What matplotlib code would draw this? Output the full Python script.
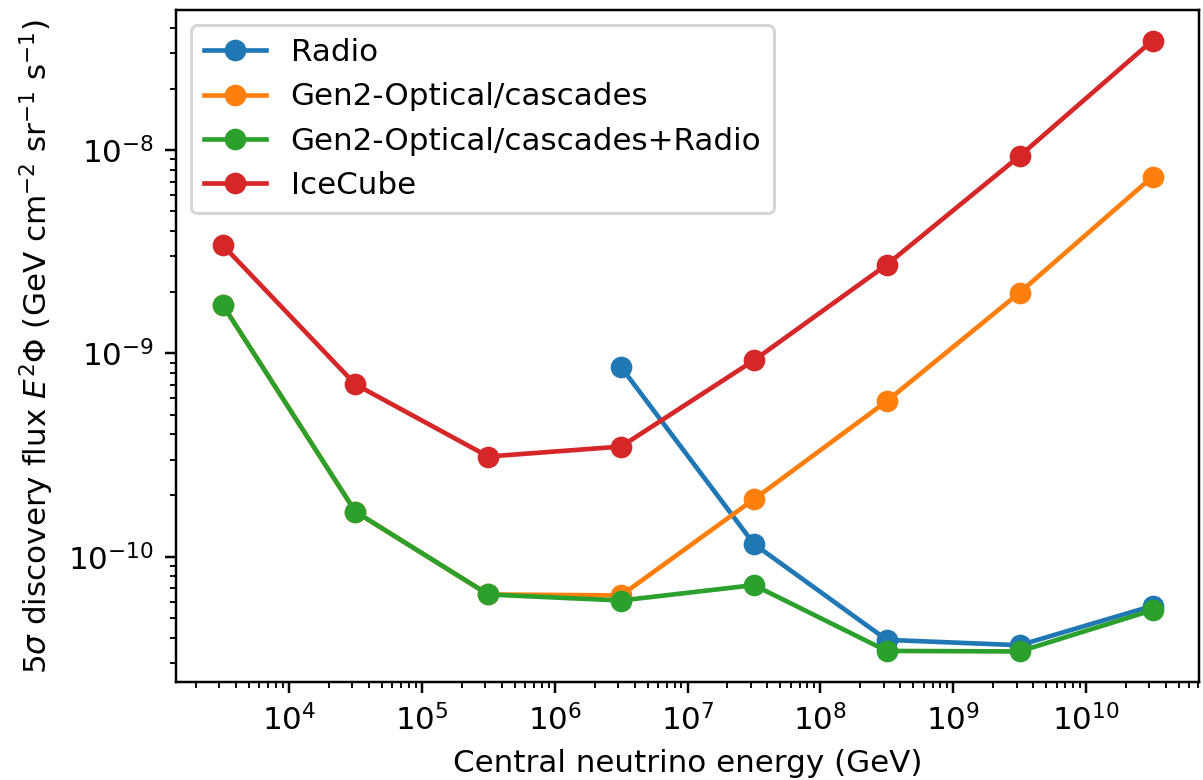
import numpy as np
import matplotlib
matplotlib.use("Agg")
import matplotlib.pyplot as plt

# Central energies of the energy bins (GeV), half-decade offsets
energy = [10**3.5, 10**4.5, 10**5.5, 10**6.5, 10**7.5, 10**8.5, 10**9.5, 10**10.5]

# 5 sigma discovery flux E^2 Phi (GeV cm^-2 sr^-1 s^-1)
radio_energy = energy[3:]
radio = [8.56e-10, 1.155e-10, 3.90e-11, 3.67e-11, 5.73e-11]

gen2_optical = [1.738e-9, 1.666e-10, 6.52e-11, 6.45e-11, 1.915e-10, 5.82e-10, 1.99e-9, 7.39e-9]

gen2_combined = [1.738e-9, 1.666e-10, 6.52e-11, 6.09e-11, 7.25e-11, 3.44e-11, 3.42e-11, 5.46e-11]

icecube = [3.416e-9, 7.04e-10, 3.11e-10, 3.48e-10, 9.24e-10, 2.73e-9, 9.34e-9, 3.455e-8]

DPI = 223
fig = plt.figure(figsize=(1203 / DPI, 780 / DPI), dpi=DPI)
ax = fig.add_axes([176 / 1203, 98 / 780, 1023 / 1203, 672 / 780])

style = dict(marker="o", markersize=6, linewidth=1.5)
ax.plot(radio_energy, radio, color="C0", label="Radio", **style)
ax.plot(energy, gen2_optical, color="C1", label="Gen2-Optical/cascades", **style)
ax.plot(energy, gen2_combined, color="C2", label="Gen2-Optical/cascades+Radio", **style)
ax.plot(energy, icecube, color="C3", label="IceCube", **style)

ax.set_xscale("log")
ax.set_yscale("log")
ax.set_xlabel("Central neutrino energy (GeV)")
ax.set_ylabel(r"5$\sigma$ discovery flux $E^2\Phi$ (GeV cm$^{-2}$ sr$^{-1}$ s$^{-1}$)")
ax.legend(loc="upper left")

fig.savefig("out.png", dpi=DPI)
